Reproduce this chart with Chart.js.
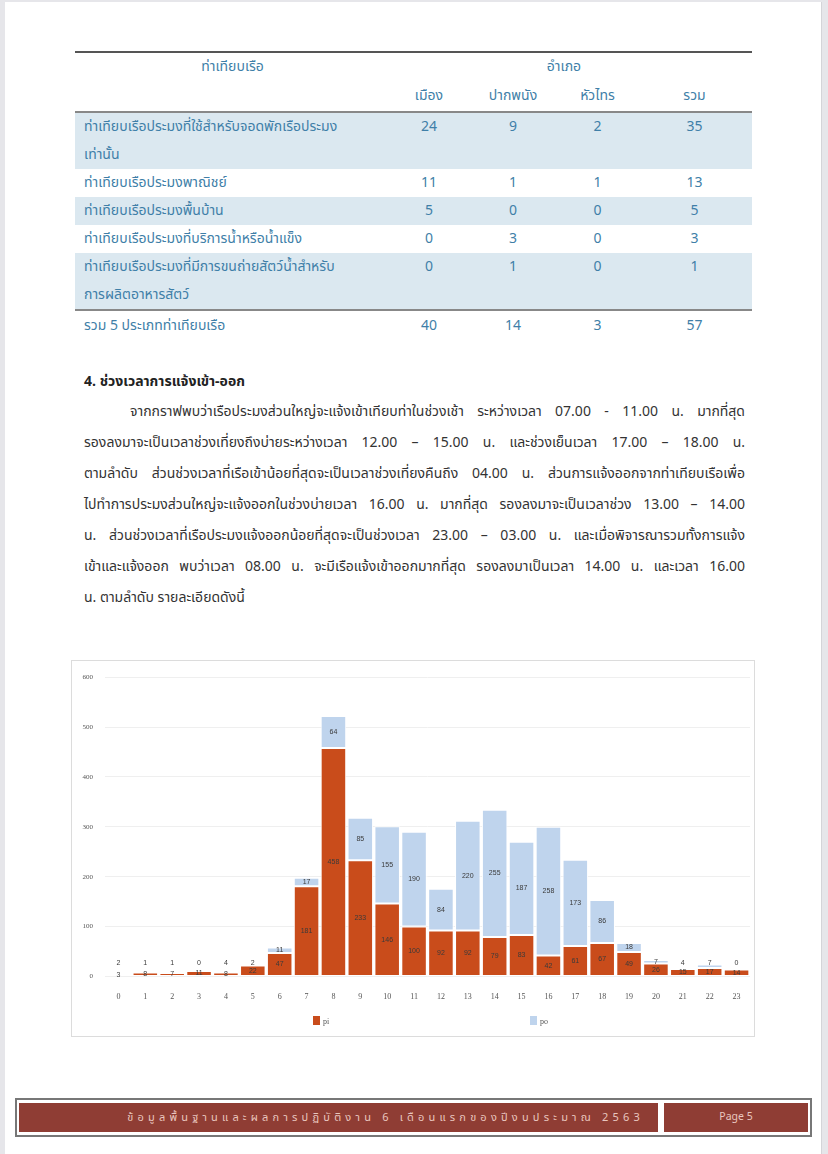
<!DOCTYPE html>
<html>
<head>
<meta charset="utf-8">
<script src="https://cdn.jsdelivr.net/npm/chart.js@4/dist/chart.umd.min.js"></script>
<style>
  html, body { margin: 0; padding: 0; }
  body { width: 828px; height: 1154px; background: #e6e6ea; position: relative; overflow: hidden;
         font-family: "Noto Sans Thai", Tahoma, "Noto Sans", "DejaVu Sans", sans-serif; }
  #page { position: absolute; left: 5px; top: 2px; width: 816px; height: 1152px; background: #fff;
          border-right: 1px solid #d4d4d8; }
  .abs { position: absolute; }
  #tbl { position: absolute; left: 75px; top: 51px; width: 677px; border-collapse: collapse; color: #3f7fa8; font-size: 14px; }
  #tbl td { padding: 0; line-height: 28px; vertical-align: top; }
  #tbl .c { text-align: center; }
  #tbl .l { padding-left: 9px; }
  #tbl tr.shade td { background: #dbe8f0; }
  #heading { left: 84px; top: 371px; font-size: 14px; font-weight: bold; color: #222; }
  #para { left: 84px; top: 396px; width: 661px; font-size: 14px; line-height: 31px; color: #333; }
  #para div { text-align: justify; text-align-last: justify; white-space: nowrap; }
  #para div.last { text-align-last: left; }
  #chartBox { position: absolute; left: 71px; top: 660px; width: 684px; height: 377px; border: 1px solid #dcdcdc; box-sizing: border-box; }
  #chart { position: absolute; left: 0; top: 0; }
  .lg { position: absolute; top: 355px; font: 8px "Liberation Serif", serif; color: #555; }
  .lg span { display: inline-block; width: 7px; height: 9px; vertical-align: -1px; margin-right: 3px; }
  #footer { position: absolute; left: 15px; top: 1098px; width: 797px; height: 39px; border: 2px solid #777; box-sizing: border-box; }
  .fbox { position: absolute; top: 3px; height: 29px; background: #8f3d34; color: #e9c6bf; font-size: 11px; line-height: 29px; }
</style>
</head>
<body>
<div id="page"></div>

<table id="tbl">
  <tr style="border-top: 2px solid #555;">
    <td class="c" style="width:315px;">ท่าเทียบเรือ</td>
    <td class="c" colspan="4" style="padding-right:14px;">อำเภอ</td>
  </tr>
  <tr style="border-bottom: 2px solid #888;">
    <td></td>
    <td class="c" style="width:78px; line-height:30px;">เมือง</td>
    <td class="c" style="width:90px; line-height:30px;">ปากพนัง</td>
    <td class="c" style="width:79px; line-height:30px;">หัวไทร</td>
    <td class="c" style="line-height:30px;">รวม</td>
  </tr>
  <tr class="shade"><td class="l">ท่าเทียบเรือประมงที่ใช้สำหรับจอดพักเรือประมง<br>เท่านั้น</td><td class="c">24</td><td class="c">9</td><td class="c">2</td><td class="c">35</td></tr>
  <tr><td class="l">ท่าเทียบเรือประมงพาณิชย์</td><td class="c">11</td><td class="c">1</td><td class="c">1</td><td class="c">13</td></tr>
  <tr class="shade"><td class="l">ท่าเทียบเรือประมงพื้นบ้าน</td><td class="c">5</td><td class="c">0</td><td class="c">0</td><td class="c">5</td></tr>
  <tr><td class="l">ท่าเทียบเรือประมงที่บริการน้ำหรือน้ำแข็ง</td><td class="c">0</td><td class="c">3</td><td class="c">0</td><td class="c">3</td></tr>
  <tr class="shade" style="border-bottom: 2px solid #888;"><td class="l">ท่าเทียบเรือประมงที่มีการขนถ่ายสัตว์น้ำสำหรับ<br>การผลิตอาหารสัตว์</td><td class="c">0</td><td class="c">1</td><td class="c">0</td><td class="c">1</td></tr>
  <tr><td class="l" style="line-height:30px;">รวม 5 ประเภทท่าเทียบเรือ</td><td class="c" style="line-height:30px;">40</td><td class="c" style="line-height:30px;">14</td><td class="c" style="line-height:30px;">3</td><td class="c" style="line-height:30px;">57</td></tr>
</table>

<div id="heading" class="abs">4. ช่วงเวลาการแจ้งเข้า-ออก</div>
<div id="para" class="abs">
  <div style="padding-left:46px;">จากกราฟพบว่าเรือประมงส่วนใหญ่จะแจ้งเข้าเทียบท่าในช่วงเช้า ระหว่างเวลา 07.00 - 11.00 น. มากที่สุด</div>
  <div>รองลงมาจะเป็นเวลาช่วงเที่ยงถึงบ่ายระหว่างเวลา 12.00 – 15.00 น. และช่วงเย็นเวลา 17.00 – 18.00 น.</div>
  <div>ตามลำดับ ส่วนช่วงเวลาที่เรือเข้าน้อยที่สุดจะเป็นเวลาช่วงเที่ยงคืนถึง 04.00 น. ส่วนการแจ้งออกจากท่าเทียบเรือเพื่อ</div>
  <div>ไปทำการประมงส่วนใหญ่จะแจ้งออกในช่วงบ่ายเวลา 16.00 น. มากที่สุด รองลงมาจะเป็นเวลาช่วง 13.00 – 14.00</div>
  <div>น. ส่วนช่วงเวลาที่เรือประมงแจ้งออกน้อยที่สุดจะเป็นช่วงเวลา 23.00 – 03.00 น. และเมื่อพิจารณารวมทั้งการแจ้ง</div>
  <div>เข้าและแจ้งออก พบว่าเวลา 08.00 น. จะมีเรือแจ้งเข้าออกมากที่สุด รองลงมาเป็นเวลา 14.00 น. และเวลา 16.00</div>
  <div class="last">น. ตามลำดับ รายละเอียดดังนี้</div>
</div>

<div id="chartBox">
  <canvas id="chart" width="682" height="375"></canvas>
  <div class="lg" style="left:241px;"><span style="background:#c94c1b;"></span>pi</div>
  <div class="lg" style="left:458px;"><span style="background:#bfd4ed;"></span>po</div>
</div>

<div id="footer">
  <div class="fbox" style="left:2px; width:639px; text-align:right; letter-spacing:4.2px;"><span style="padding-right:14px;">ข้อมูลพื้นฐานและผลการปฏิบัติงาน 6 เดือนแรกของปีงบประมาณ 2563</span></div>
  <div class="fbox" style="left:647px; width:144px; text-align:center; font-size:10.5px;">Page 5</div>
</div>

<script>
const hours = ['0','1','2','3','4','5','6','7','8','9','10','11','12','13','14','15','16','17','18','19','20','21','22','23'];
const piValues = [3, 8, 7, 11, 8, 22, 47, 181, 458, 233, 146, 100, 92, 92, 79, 83, 42, 61, 67, 49, 26, 15, 17, 14];
const poValues = [2, 1, 1, 0, 4, 2, 11, 17, 64, 85, 155, 190, 84, 220, 255, 187, 258, 173, 86, 18, 7, 4, 7, 0];
const yTicks = [0, 100, 200, 300, 400, 500, 600];

// value labels in the middle of each segment, small po ones lifted above the base
const barLabels = {
  id: 'barLabels',
  afterDatasetsDraw(chart) {
    const ctx = chart.ctx;
    const zero = chart.scales.y.getPixelForValue(0);
    ctx.save();
    ctx.font = '7px "Liberation Sans", Arial, sans-serif';
    ctx.fillStyle = '#3a3a3a';
    ctx.textAlign = 'center';
    ctx.textBaseline = 'middle';
    chart.data.datasets.forEach((ds, di) => {
      chart.getDatasetMeta(di).data.forEach((bar, i) => {
        const p = bar.getProps(['x', 'y', 'base'], true);
        let cy = (p.y + p.base) / 2;
        if (di === 1) cy = Math.min(cy, zero - 13);
        ctx.fillText(String(ds.data[i]), p.x, cy);
      });
    });
    ctx.restore();
  }
};

new Chart(document.getElementById('chart'), {
  type: 'bar',
  data: {
    labels: hours,
    datasets: [
      { label: 'pi', data: piValues, backgroundColor: '#c94c1b', borderColor: '#ffffff', borderWidth: 1, borderSkipped: false,
        categoryPercentage: 0.95, barPercentage: 1 },
      { label: 'po', data: poValues, backgroundColor: '#bfd4ed', borderColor: '#ffffff', borderWidth: 1, borderSkipped: false,
        categoryPercentage: 0.95, barPercentage: 1 }
    ]
  },
  options: {
    responsive: false,
    animation: false,
    devicePixelRatio: 1,
    layout: { padding: { top: 1, right: 4, bottom: 26, left: 0 } },
    plugins: { legend: { display: false }, tooltip: { enabled: false } },
    scales: {
      x: {
        stacked: true,
        grid: { display: false },
        border: { display: false },
        ticks: { color: '#555', font: { family: '"Liberation Serif", serif', size: 8 }, padding: 8 }
      },
      y: {
        stacked: true,
        min: 0,
        max: 600,
        afterBuildTicks(axis) { axis.ticks = yTicks.map(v => ({ value: v })); },
        afterFit(axis) { axis.width = 33; },
        grid: { color: '#efefef', drawTicks: false },
        border: { display: false },
        ticks: { color: '#555', font: { family: '"Liberation Serif", serif', size: 7 }, padding: 12 }
      }
    }
  },
  plugins: [barLabels]
});
</script>
</body>
</html>
